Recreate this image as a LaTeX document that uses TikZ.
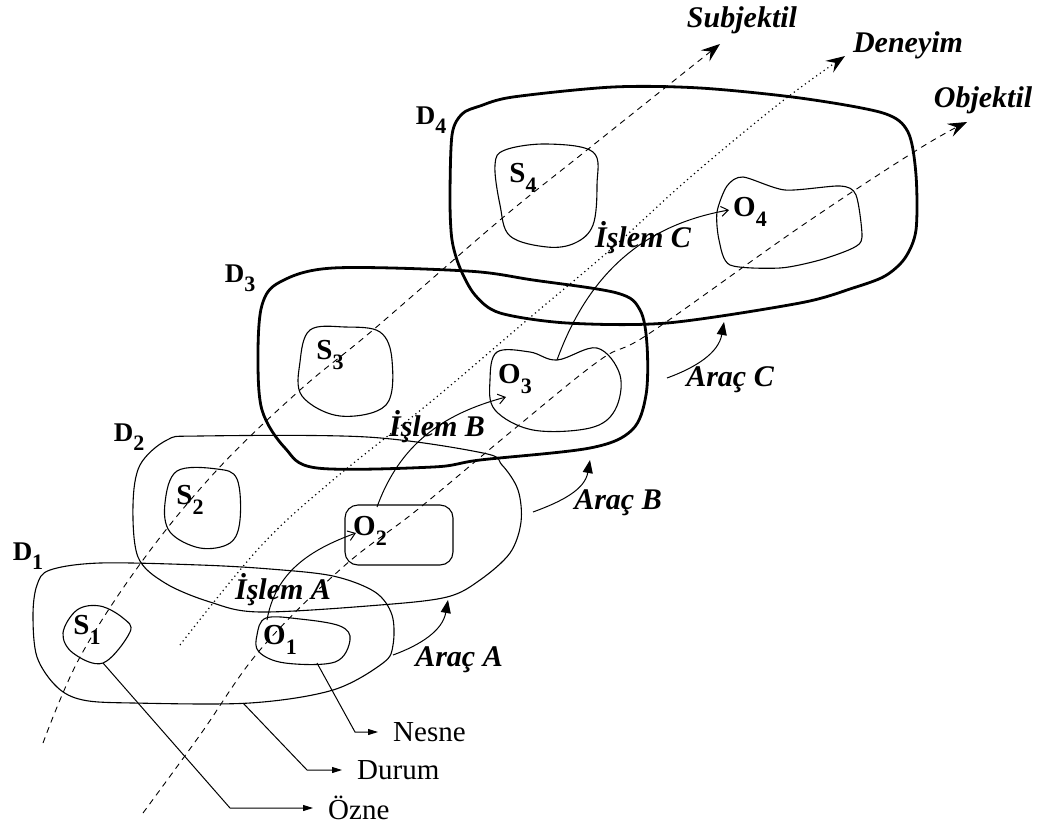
\documentclass[tikz,border=0pt]{standalone}
\usepackage{fontspec}
\setmainfont{Liberation Serif}
\usetikzlibrary{arrows.meta}

% letter with a lowered index, as in S1, O1, D1
\newcommand{\idx}[2]{#1\raisebox{-0.32em}{\fontsize{22}{22}\selectfont #2}}

\tikzset{
  thinzone/.style={line width=1.1pt},
  thickzone/.style={line width=2.8pt},
  subjdash/.style={line width=0.9pt, dash pattern=on 6pt off 5pt,
    -{Stealth[length=19pt,width=14pt,inset=7pt]}},
  expdot/.style={line width=1.2pt, dash pattern=on 1.2pt off 3.4pt,
    -{Stealth[length=19pt,width=14pt,inset=7pt]}},
  islem/.style={line width=1pt, -{Straight Barb[length=7pt,width=10pt]}},
  arac/.style={line width=1pt, -{Triangle[length=13pt,width=10pt]}},
  leader/.style={line width=1pt, -{Triangle[length=10pt,width=6pt]}},
  sotag/.style={font=\fontsize{29}{32}\selectfont\bfseries, inner sep=1pt},
  dtag/.style={font=\fontsize{27}{30}\selectfont\bfseries, inner sep=1pt},
  italtag/.style={font=\fontsize{30}{33}\selectfont\bfseries\itshape, inner sep=1pt},
  plaintag/.style={font=\fontsize{29}{32}\selectfont, anchor=west,
    inner xsep=15pt, inner ysep=0pt},
}

\begin{document}
\begin{tikzpicture}[x=1pt, y=-1pt]
\useasboundingbox (0,0) rectangle (1041,825);

% ================= SITUATIONS D1..D4 =================
\draw[thinzone] plot[smooth cycle, tension=0.55] coordinates {
  (33,615) (37,585) (50,570) (100,563) (200,565) (270,569) (333,576)
  (375,592) (392,615) (393,645) (383,663) (333,690) (250,703) (133,703)
  (83,700) (57,687) (37,657)};
\draw[thinzone] plot[smooth cycle, tension=0.55] coordinates {
  (133,505) (140,465) (167,440) (200,436) (367,437) (483,453) (502,465)
  (518,490) (521,522) (510,553) (480,580) (447,597) (380,605) (260,612)
  (210,602) (165,583) (138,557)};
\draw[thickzone] plot[smooth cycle, tension=0.55] coordinates {
  (258,355) (262,305) (280,282) (333,268) (467,271) (533,280) (617,293)
  (640,310) (647,345) (646,395) (632,430) (590,448) (480,460) (433,467)
  (317,468) (285,448) (262,410)};
\draw[thickzone] plot[smooth cycle, tension=0.5] coordinates {
  (450,200) (452,135) (462,114) (480,106) (513,97) (613,87) (700,88)
  (800,98) (883,113) (908,132) (916,175) (916,230) (905,258) (885,276)
  (853,288) (800,303) (667,323) (567,323) (500,313) (475,295) (460,268)
  (452,240)};

% ================= SUBJECTS S1..S4 =================
\draw[thinzone] plot[smooth cycle, tension=0.6] coordinates {
  (63,633) (77,610) (100,606) (123,618) (130,632) (103,663) (73,653)};
\draw[thinzone] plot[smooth cycle, tension=0.6] coordinates {
  (165,503) (177,471) (217,469) (237,479) (240,520) (230,543) (200,548)
  (170,532)};
\draw[thinzone] plot[smooth cycle, tension=0.6] coordinates {
  (300,362) (310,330) (345,327) (380,332) (392,360) (386,405) (340,416)
  (302,396)};
\draw[thinzone] plot[smooth cycle, tension=0.6] coordinates {
  (495,165) (505,150) (547,144) (593,152) (597,185) (593,225) (575,243)
  (547,247) (510,236) (500,205)};

% ================= OBJECTS O1..O4 =================
\draw[thinzone] plot[smooth cycle, tension=0.6] coordinates {
  (257,635) (266,618) (300,619) (340,626) (350,640) (335,662) (285,663)
  (259,652)};
\draw[thinzone, rounded corners=13pt] (345,505) rectangle (453,565);
\draw[thinzone] plot[smooth cycle, tension=0.6] coordinates {
  (490,380) (497,352) (530,352) (557,360) (597,348) (620,375) (615,410)
  (590,428) (533,430) (495,410)};
\draw[thinzone] plot[smooth cycle, tension=0.45] coordinates {
  (717,212) (727,186) (743,177) (785,190) (840,186) (856,195) (862,237)
  (853,248) (820,260) (780,268) (730,265) (719,240)};

% ================= AXES =================
\draw[subjdash] plot[smooth, tension=0.6] coordinates {
  (43,743) (80,657) (143,560) (217,470) (300,390) (373,330) (500,220)
  (587,150) (720,44)};
\draw[expdot] plot[smooth, tension=0.6] coordinates {
  (180,645) (260,547) (333,480) (433,400) (533,315) (610,250) (687,180)
  (780,103) (845,56)};
\draw[subjdash] plot[smooth, tension=0.6] coordinates {
  (143,813) (200,735) (260,650) (343,567) (417,510) (513,430) (600,360)
  (650,333) (800,227) (917,150) (967,122)};

\node[italtag] (subj) at (742,20) {Subjektil};
\node[italtag] (deney) at (908,45) {Deneyim};
\node[italtag] (objek) at (983,100) {Objektil};

% ================= LABELS =================
\node[dtag] (d1) at (28,556) {\idx{D}{1}};
\node[dtag] (d2) at (129,437) {\idx{D}{2}};
\node[dtag] (d3) at (240,278) {\idx{D}{3}};
\node[dtag] (d4) at (431,120) {\idx{D}{4}};

\node[sotag] (s1) at (87,630) {\idx{S}{1}};
\node[sotag] (s2) at (190,500) {\idx{S}{2}};
\node[sotag] (s3) at (330,355) {\idx{S}{3}};
\node[sotag] (s4) at (523,178) {\idx{S}{4}};

\node[sotag] (o1) at (280,640) {\idx{O}{1}};
\node[sotag] (o2) at (370,531) {\idx{O}{2}};
\node[sotag] (o3) at (515,379) {\idx{O}{3}};
\node[sotag] (o4) at (750,212) {\idx{O}{4}};

% ================= OPERATIONS =================
\coordinate (o1top) at (267,620);
\coordinate (o2in) at (356,533);
\coordinate (o2top) at (377,507);
\coordinate (o3in) at (506,397);
\coordinate (o3top) at (557,360);
\coordinate (o4in) at (729,210);

\draw[islem] (o1top) to[out=80, in=200] (o2in);
\draw[islem] (o2top) to[out=70, in=195] (o3in);
\draw[islem] (o3top) to[out=70, in=190] (o4in);

\node[italtag] (islemA) at (283,590) {İşlem A};
\node[italtag] (islemB) at (437,427) {İşlem B};
\node[italtag] (islemC) at (643,238) {İşlem C};

% ================= TOOLS =================
\coordinate (aracAfrom) at (393,655);
\coordinate (aracAto) at (448,600);
\coordinate (aracBfrom) at (533,512);
\coordinate (aracBto) at (590,460);
\coordinate (aracCfrom) at (667,378);
\coordinate (aracCto) at (724,322);

\draw[arac] (aracAfrom) to[out=20, in=-100] (aracAto);
\draw[arac] (aracBfrom) to[out=20, in=-100] (aracBto);
\draw[arac] (aracCfrom) to[out=20, in=-100] (aracCto);

\node[italtag] (aracA) at (459,660) {Araç A};
\node[italtag] (aracB) at (618,503) {Araç B};
\node[italtag] (aracC) at (730,380) {Araç C};

% ================= LEGEND =================
\coordinate (o1bot) at (317,663);
\coordinate (d1bot) at (243,703);
\coordinate (s1bot) at (103,663);

\node[plaintag] (nesne) at (378,732) {Nesne};
\node[plaintag] (durum) at (342,770) {Durum};
\node[plaintag] (ozne) at (313,808) {Özne};

\draw[leader] (o1bot) -- (355,732) -- (nesne.west);
\draw[leader] (d1bot) -- (307,770) -- (durum.west);
\draw[leader] (s1bot) -- (230,808) -- (ozne.west);

\end{tikzpicture}
\end{document}
